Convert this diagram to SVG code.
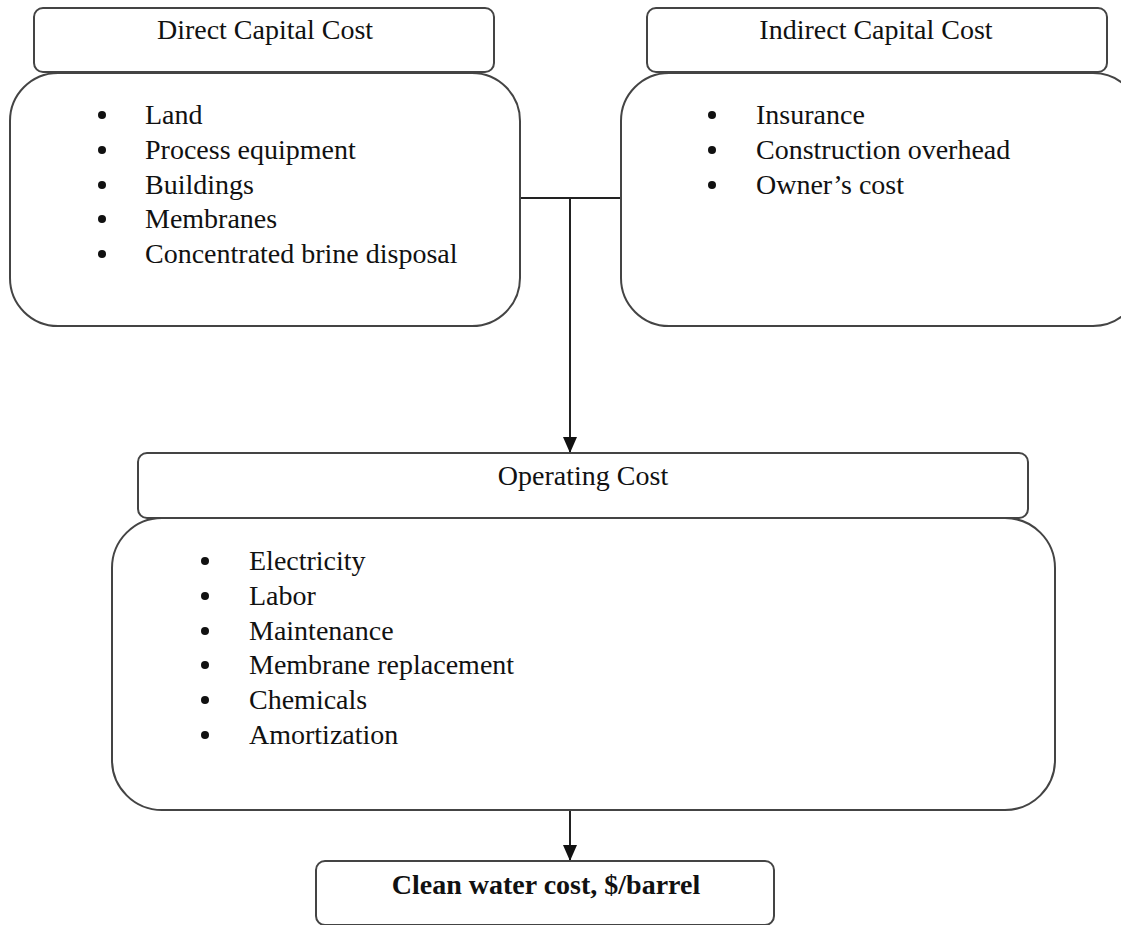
<svg xmlns="http://www.w3.org/2000/svg" width="1121" height="925" viewBox="0 0 1121 925">
<style>
.box{fill:#fff;stroke:#444;stroke-width:2}
.t{font-family:"Liberation Serif","Times New Roman",serif;font-size:28px;fill:#111}
.h{text-anchor:middle}
.b{font-weight:bold}
.dot{fill:#111}
.ln{stroke:#222;stroke-width:2;fill:none}
</style>
<defs>
<marker id="ah" markerWidth="16" markerHeight="14" refX="15" refY="7" orient="auto" markerUnits="userSpaceOnUse" viewBox="0 0 16 14">
<path d="M0,0 L16,7 L0,14 z" fill="#111"/>
</marker>
</defs>
<rect width="1121" height="925" fill="#fff"/>
<g id="connectors">
<line class="ln" x1="520" y1="198" x2="622" y2="198"/>
<line class="ln" x1="570" y1="198" x2="570" y2="452" marker-end="url(#ah)"/>
<line class="ln" x1="570" y1="810" x2="570" y2="860" marker-end="url(#ah)"/>
</g>
<g id="direct">
<rect class="box" x="34" y="8" width="460" height="64" rx="9"/>
<rect class="box" x="10" y="73" width="510" height="253" rx="48"/>
<text class="t h" x="265" y="39">Direct Capital Cost</text>
<g class="dot"><circle cx="102" cy="115" r="4"/><circle cx="102" cy="150" r="4"/><circle cx="102" cy="185" r="4"/><circle cx="102" cy="219" r="4"/><circle cx="102" cy="254" r="4"/></g>
<text class="t" x="145" y="124">Land</text>
<text class="t" x="145" y="159">Process equipment</text>
<text class="t" x="145" y="194">Buildings</text>
<text class="t" x="145" y="228">Membranes</text>
<text class="t" x="145" y="263">Concentrated brine disposal</text>
</g>
<g id="indirect">
<rect class="box" x="647" y="8" width="460" height="64" rx="9"/>
<rect class="box" x="621" y="73" width="520" height="253" rx="48"/>
<text class="t h" x="876" y="39">Indirect Capital Cost</text>
<g class="dot"><circle cx="712" cy="115" r="4"/><circle cx="712" cy="150" r="4"/><circle cx="712" cy="185" r="4"/></g>
<text class="t" x="756" y="124">Insurance</text>
<text class="t" x="756" y="159">Construction overhead</text>
<text class="t" x="756" y="194">Owner’s cost</text>
</g>
<g id="operating">
<rect class="box" x="138" y="453" width="890" height="65" rx="9"/>
<rect class="box" x="112" y="518" width="943" height="292" rx="50"/>
<text class="t h" x="583" y="485">Operating Cost</text>
<g class="dot"><circle cx="205" cy="561" r="4"/><circle cx="205" cy="596" r="4"/><circle cx="205" cy="631" r="4"/><circle cx="205" cy="665" r="4"/><circle cx="205" cy="700" r="4"/><circle cx="205" cy="735" r="4"/></g>
<text class="t" x="249" y="570">Electricity</text>
<text class="t" x="249" y="605">Labor</text>
<text class="t" x="249" y="640">Maintenance</text>
<text class="t" x="249" y="674">Membrane replacement</text>
<text class="t" x="249" y="709">Chemicals</text>
<text class="t" x="249" y="744">Amortization</text>
</g>
<g id="clean">
<rect class="box" x="316" y="861" width="458" height="64" rx="9"/>
<text class="t h b" x="546" y="894">Clean water cost, $/barrel</text>
</g>
</svg>
